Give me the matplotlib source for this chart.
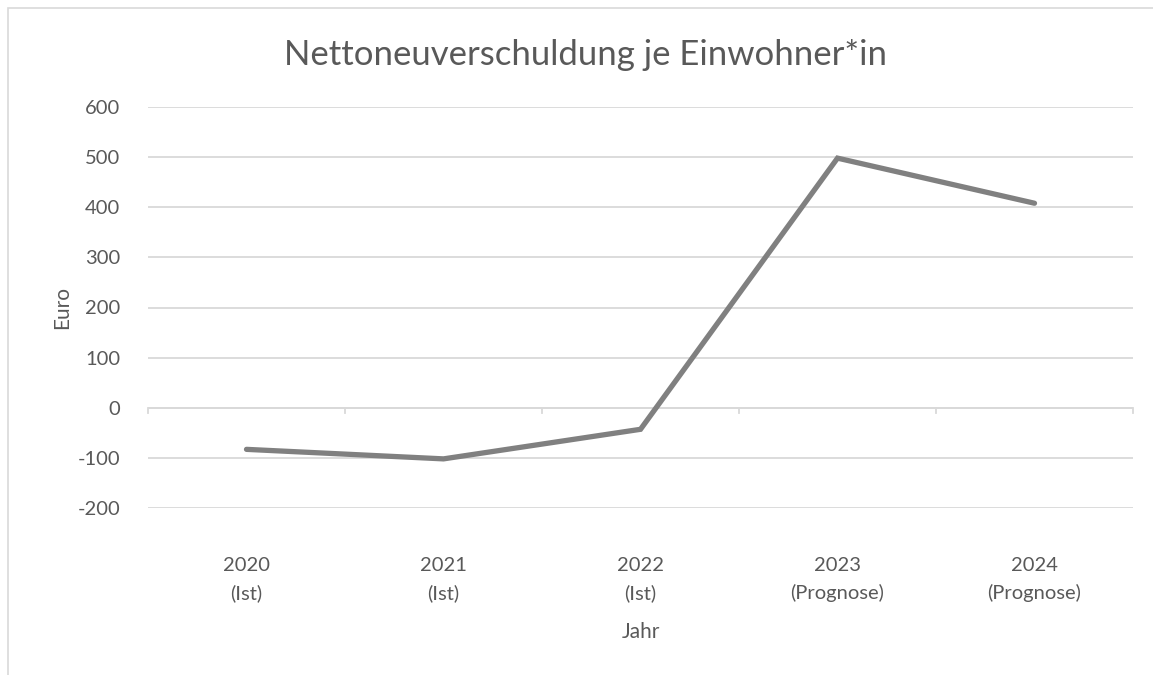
import matplotlib
matplotlib.use("Agg")
import matplotlib.pyplot as plt
from matplotlib.patches import Rectangle

years = ["2020\n(Ist)", "2021\n(Ist)", "2022\n(Ist)", "2023\n(Prognose)", "2024\n(Prognose)"]
debt_per_capita = [-83, -102, -43, 498, 408]
y_ticks = [-200, -100, 0, 100, 200, 300, 400, 500, 600]

text_color = "#595959"
grid_color = "#d9d9d9"
plt.rcParams["font.family"] = ["Lato", "DejaVu Sans"]
plt.rcParams["axes.unicode_minus"] = False

fig = plt.figure(figsize=(11.53, 6.75), dpi=100)
ax = fig.add_axes([148 / 1153, 1 - 508 / 675, (1133 - 148) / 1153, (508 - 107) / 675])

# chart frame like the spreadsheet export
fig.patches.append(Rectangle((8 / 1153, -0.05), 1.2, 1.05 - 8 / 675, transform=fig.transFigure,
                             fill=False, edgecolor=grid_color, linewidth=1.2))

x = list(range(len(years)))
ax.plot(x, debt_per_capita, color="#808080", linewidth=3.8, solid_capstyle="round",
        solid_joinstyle="miter", zorder=3)

ax.set_xlim(-0.5, len(years) - 0.5)
ax.set_ylim(-200, 600)
ax.set_yticks(y_ticks)
ax.yaxis.grid(True, color=grid_color, linewidth=1.3)
ax.set_axisbelow(True)
for side in ["top", "right", "left", "bottom"]:
    ax.spines[side].set_visible(False)
ax.tick_params(axis="y", length=0, pad=20, labelsize=14.5, labelcolor=text_color)

# category labels below the plot, boundary ticks on the zero line
ax.set_xticks(x)
ax.set_xticklabels(years, fontsize=14.5, color=text_color, linespacing=1.7)
ax.tick_params(axis="x", length=0, pad=35)
ax.axhline(0, color=grid_color, linewidth=1.3, zorder=1)
for b in [i - 0.5 for i in range(len(years) + 1)]:
    ax.plot([b, b], [0, -10], color=grid_color, linewidth=1.3, zorder=1, clip_on=False)

ax.set_xlabel("Jahr", fontsize=15, color=text_color, va="center")
ax.xaxis.set_label_coords(0.5, (508 - 632) / 401)
ax.set_ylabel("Euro", fontsize=15, color=text_color, va="center")
ax.yaxis.set_label_coords((62 - 148) / 985, 0.5)
fig.text(585 / 1153, 1 - 55 / 675, "Nettoneuverschuldung je Einwohner*in", ha="center", va="center",
         fontsize=25, color=text_color)

fig.savefig("out.png", dpi=100)
